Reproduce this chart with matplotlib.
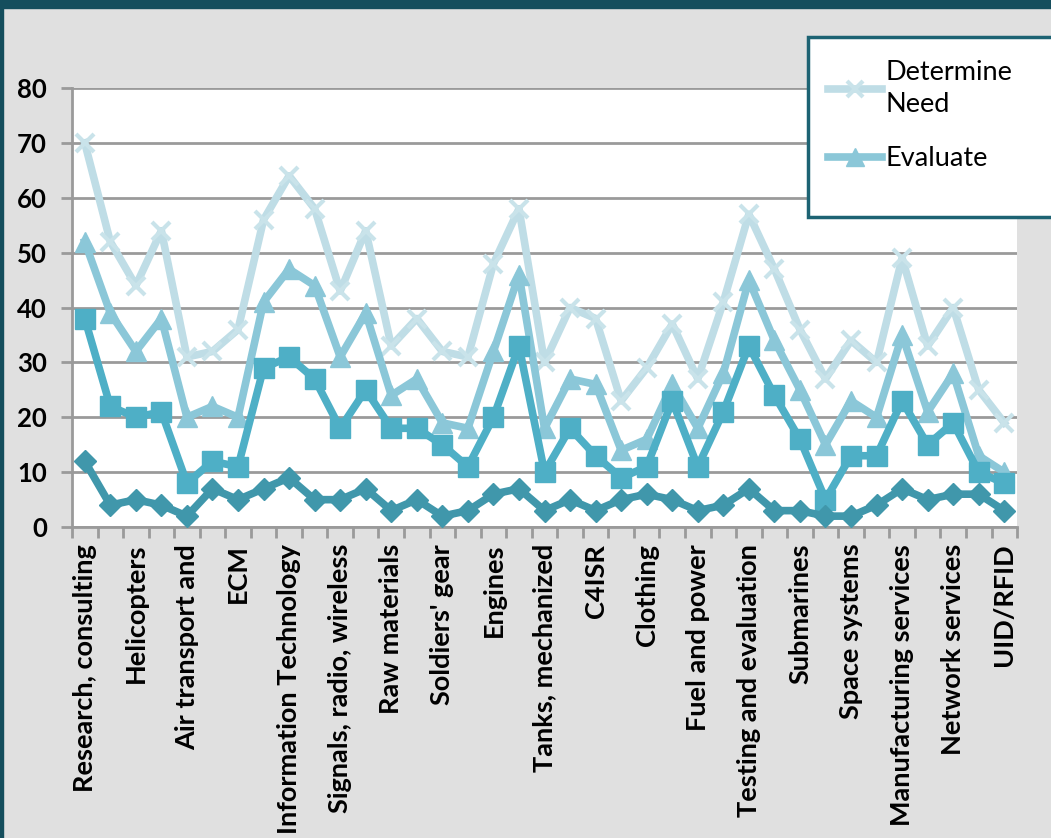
import matplotlib
matplotlib.use("Agg")
import matplotlib.pyplot as plt
from matplotlib.patches import Rectangle
import numpy as np

plt.rcParams['font.family'] = ['Lato', 'DejaVu Sans']

categories = [
    "Research, consulting", "", "Helicopters", "", "Air transport and", "",
    "ECM", "", "Information Technology", "", "Signals, radio, wireless", "",
    "Raw materials", "", "Soldiers' gear", "", "Engines", "",
    "Tanks, mechanized", "", "C4ISR", "", "Clothing", "",
    "Fuel and power", "", "Testing and evaluation", "", "Submarines", "",
    "Space systems", "", "Manufacturing services", "", "Network services", "",
    "UID/RFID",
]

determine_need = [70, 52, 44, 54, 31, 32, 36, 56, 64, 58, 43, 54, 33, 38, 32, 31,
                  48, 58, 30, 40, 38, 23, 29, 37, 27, 41, 57, 47, 36, 27, 34, 30,
                  49, 33, 40, 25, 19]
evaluate = [52, 39, 32, 38, 20, 22, 20, 41, 47, 44, 31, 39, 24, 27, 19, 18,
            32, 46, 18, 27, 26, 14, 16, 26, 18, 28, 45, 34, 25, 15, 23, 20,
            35, 21, 28, 13, 10]
select = [38, 22, 20, 21, 8, 12, 11, 29, 31, 27, 18, 25, 18, 18, 15, 11,
          20, 33, 10, 18, 13, 9, 11, 23, 11, 21, 33, 24, 16, 5, 13, 13,
          23, 15, 19, 10, 8]
purchase = [12, 4, 5, 4, 2, 7, 5, 7, 9, 5, 5, 7, 3, 5, 2, 3,
            6, 7, 3, 5, 3, 5, 6, 5, 3, 4, 7, 3, 3, 2, 2, 4,
            7, 5, 6, 6, 3]

x = np.arange(len(categories))

fig = plt.figure(figsize=(10.51, 8.38), dpi=100, facecolor='#e0e0e0')
ax = fig.add_axes([0.0685, 0.371, 0.8992, 0.524])
ax.set_facecolor('white')

# frame of the slide: dark band on top, thin strip on the left
fig.patches.append(Rectangle((0, 1 - 8 / 838), 1, 8 / 838, transform=fig.transFigure,
                             color='#154e5d', zorder=0))
fig.patches.append(Rectangle((0, 0), 3 / 1051, 1, transform=fig.transFigure,
                             color='#154e5d', zorder=0))

l1, = ax.plot(x, determine_need, color='#bfdde6', lw=5.5, marker='x', ms=13, mew=3,
              mec='#c9e3ea', label='Determine\nNeed', zorder=3)
l2, = ax.plot(x, evaluate, color='#8bc7d8', lw=5.5, marker='^', ms=15,
              label='Evaluate', zorder=4)
ax.plot(x, select, color='#4eafc6', lw=5.5, marker='s', ms=15, zorder=5)
ax.plot(x, purchase, color='#4097ab', lw=5.5, marker='D', ms=11, zorder=6)

ax.set_xlim(-0.5, len(categories) - 0.5)
ax.set_ylim(0, 80)
ax.set_yticks(range(0, 81, 10))
ax.yaxis.grid(True, color='#9a9a9a', lw=2)
ax.set_axisbelow(True)

ax.set_xticks(np.arange(-0.5, len(categories), 1))
ax.set_xticklabels([])
ax.set_xticks(x[::2], minor=True)
ax.set_xticklabels(categories[::2], minor=True, rotation=90, fontsize=19.5,
                   fontweight='bold', va='top', ha='center')
ax.tick_params(axis='x', which='major', length=8, width=2, color='#9a9a9a', direction='out')
ax.tick_params(axis='x', which='minor', length=0, pad=12)
ax.tick_params(axis='y', length=8, width=2, color='#9a9a9a', labelsize=18.5, pad=10)
for lab in ax.get_yticklabels():
    lab.set_fontweight('bold')

for side in ['top', 'right']:
    ax.spines[side].set_visible(False)
for side in ['left', 'bottom']:
    ax.spines[side].set_color('#9a9a9a')
    ax.spines[side].set_linewidth(2)

# legend box runs off the right edge
fig.patches.append(Rectangle((808 / 1051, 1 - 217 / 838), 260 / 1051, 180 / 838,
                             transform=fig.transFigure, facecolor='white',
                             edgecolor='#1d6373', lw=2.5, zorder=10))
leg = fig.legend(handles=[l1, l2], loc='upper left',
                 bbox_to_anchor=(814 / 1051, 1 - 46 / 838), frameon=False,
                 fontsize=19.5, handlelength=2.0, handletextpad=0.15,
                 labelspacing=1.1, borderpad=0, markerscale=0.85)
leg.set_zorder(11)
for t in leg.get_texts():
    t.set_linespacing(1.35)

fig.savefig('out.png', dpi=100, facecolor=fig.get_facecolor())
